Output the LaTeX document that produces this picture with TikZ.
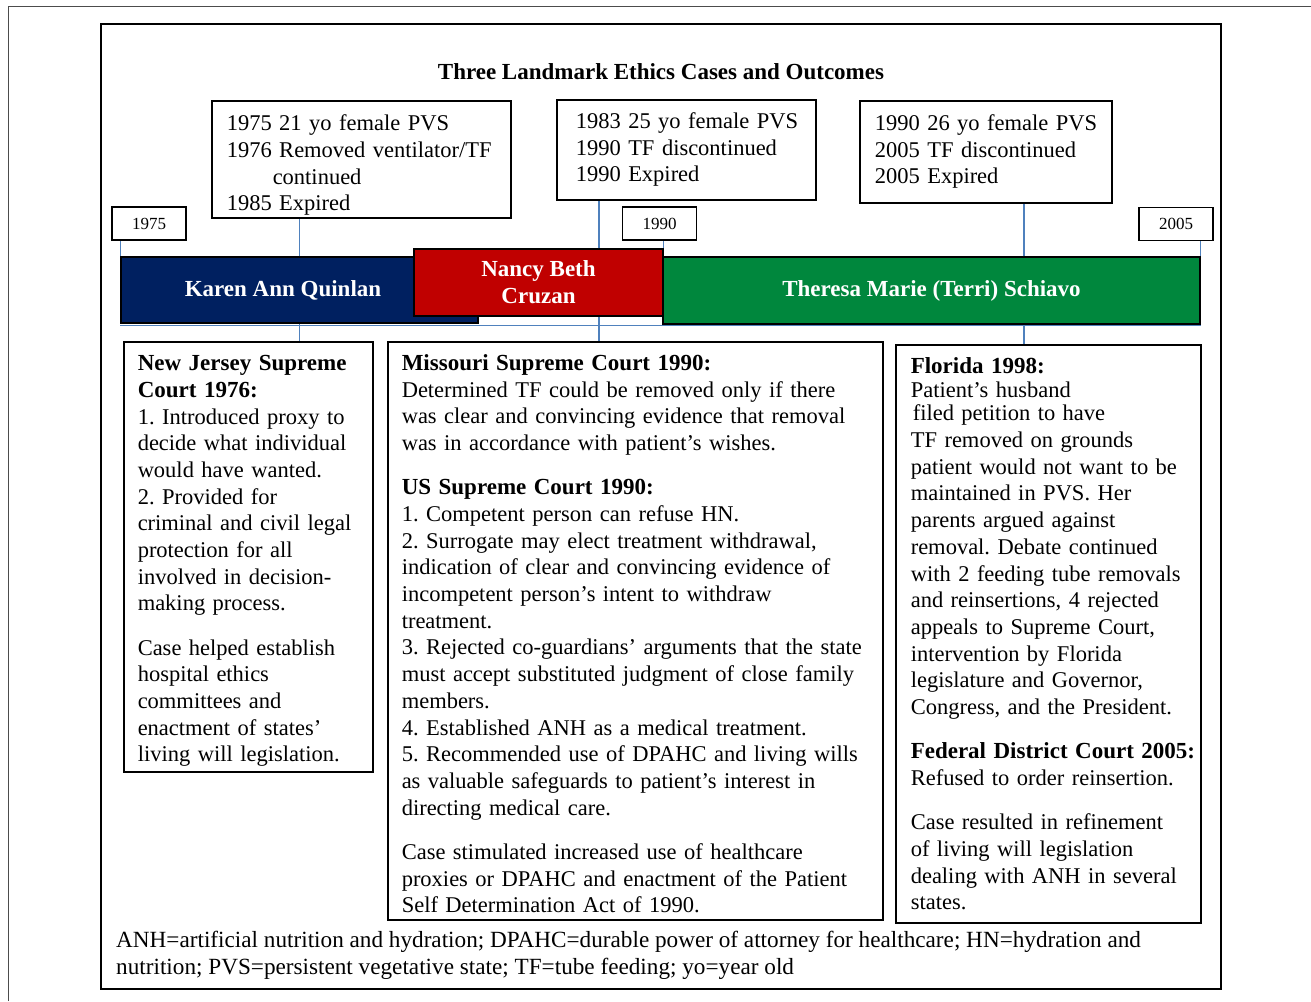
\documentclass[tikz,border=0pt]{standalone}
\usepackage{fontspec}
\setmainfont{Liberation Serif}
\usetikzlibrary{positioning}

\definecolor{kaqblue}{HTML}{002060}
\definecolor{ncbred}{HTML}{C00000}
\definecolor{tmsgreen}{HTML}{00873D}
\definecolor{tickblue}{HTML}{4F81BD}
\newcommand{\casefont}{\frenchspacing\fontsize{22.5}{26.7}\selectfont}
\newcommand{\boldfont}{\fontsize{23}{26.7}\selectfont\bfseries}
\newcommand{\head}[1]{{\boldfont #1}}

\tikzset{
	yearbox/.style={draw, line width=1.3pt, minimum width=74pt, minimum height=33pt, inner sep=0pt, font=\rmfamily\fontsize{17}{20}\selectfont},
	casebox/.style={draw, line width=1.5pt, anchor=north west, align=left, inner ysep=0pt, font=\casefont},
	bar/.style={draw, line width=1.5pt, inner sep=0pt, text=white, align=center, font=\boldfont},
	tick/.style={draw=tickblue, line width=1.3pt},
}

\begin{document}
\begin{tikzpicture}[x=1pt,y=-1pt]
	\useasboundingbox (0,0) rectangle (1311,1001);
	
	% marcos
	\draw[gray!60!black, line width=1pt] (8,1001) -- (8,6) -- (1311,6);
	\draw[line width=1.5pt] (101,24) rectangle (1221,989);
	
	\node[font=\boldfont] (title) at (661,72) {Three Landmark Ethics Cases and Outcomes};
	
	% datos arriba
	\node[casebox, inner xsep=15pt, text width=269pt, minimum height=117pt] (kaqinfo) at (211,100)
	{\rule{0pt}{28pt}1975 21 yo female PVS\\
		\mbox{1976 Removed ventilator/TF}\\
		\hspace*{46pt}continued\\
		1985 Expired};
	\node[casebox, inner xsep=19pt, text width=221pt, minimum height=100pt] (ncbinfo) at (556,99)
	{\mbox{1983 25 yo female PVS}\\
		1990 TF discontinued\\
		1990 Expired};
	\node[casebox, inner xsep=15pt, text width=222pt, minimum height=102pt] (tmsinfo) at (859,100)
	{\mbox{1990 26 yo female PVS}\\
		2005 TF discontinued\\
		2005 Expired};
	
	% años
	\node[yearbox] (y1975) at (149,223.5) {1975};
	\node[yearbox] (y1990) at (659.5,223.5) {1990};
	\node[yearbox] (y2005) at (1176,224) {2005};
	
	% barras
	\node[bar, fill=kaqblue, minimum width=357pt, minimum height=66pt] (kaq) at (299.5,290) {};
	\node[text=white, font=\boldfont] (kaqlabel) at (283,290) {Karen Ann Quinlan};
	\node[bar, fill=ncbred, minimum width=249pt, minimum height=67pt] (ncb) at (538.5,282.5) {Nancy Beth\\Cruzan};
	\node[bar, fill=tmsgreen, minimum width=537pt, minimum height=67pt] (tms) at (931.5,290.5) {Theresa Marie (Terri) Schiavo};
	
	% tribunales
	\node[casebox, inner xsep=14pt, text width=221pt, minimum height=430pt] (kaqcourt) at (123,341)
	{\rule{0pt}{24pt}\head{New Jersey Supreme}\\
		\head{Court 1976:}\\
		1. Introduced proxy to\\
		decide what individual\\
		would have wanted.\\
		2. Provided for\\
		criminal and civil legal\\
		protection for all\\
		involved in decision-\\
		making process.\\[17.5pt]
		Case helped establish\\
		hospital ethics\\
		committees and\\
		enactment of states’\\
		living will legislation.};
	\node[casebox, inner xsep=14pt, text width=467pt, minimum height=578pt] (ncbcourt) at (387,341)
	{\rule{0pt}{22pt}\head{Missouri Supreme Court 1990:}\\
		Determined TF could be removed only if there\\
		was clear and convincing evidence that removal\\
		was in accordance with patient’s wishes.\\[17.5pt]
		\head{US Supreme Court 1990:}\\
		1. Competent person can refuse HN.\\
		2. Surrogate may elect treatment withdrawal,\\
		indication of clear and convincing evidence of\\
		incompetent person’s intent to withdraw\\
		treatment.\\
		\mbox{3. Rejected co-guardians’ arguments that the state}\\
		must accept substituted judgment of close family\\
		members.\\
		4. Established ANH as a medical treatment.\\
		\mbox{5. Recommended use of DPAHC and living wills}\\
		as valuable safeguards to patient’s interest in\\
		directing medical care.\\[17.5pt]
		Case stimulated increased use of healthcare\\
		proxies or DPAHC and enactment of the Patient\\
		Self Determination Act of 1990.};
	\node[casebox, inner xsep=15pt, text width=275pt, minimum height=578pt] (tmscourt) at (895,344)
	{\head{Florida 1998:}\\[-3pt]
		Patient’s husband\\[-3pt]
		\hspace*{2pt}filed petition to have\\
		TF removed on grounds\\
		patient would not want to be\\
		maintained in PVS. Her\\
		parents argued against\\
		removal. Debate continued\\
		\mbox{with 2 feeding tube removals}\\
		and reinsertions, 4 rejected\\
		appeals to Supreme Court,\\
		intervention by Florida\\
		legislature and Governor,\\
		\mbox{Congress, and the President.}\\[17.5pt]
		\mbox{\head{Federal District Court 2005:}}\\
		Refused to order reinsertion.\\[17.5pt]
		Case resulted in refinement\\
		of living will legislation\\
		dealing with ANH in several\\
		states.};
	
	% linea de tiempo
	\coordinate (ncbx) at (599,282);
	\coordinate (tmsx) at (1024,290);
	\draw[tick] ([yshift=-2pt]kaq.south west) -- ([yshift=-2pt]kaq.south west -| tms.east);
	\draw[tick] (kaq.north west) -- (kaq.north west |- y1975.south);
	\draw[tick] (ncb.north east) -- (ncb.north east |- y1990.south);
	\draw[tick] (tms.north east) -- (tms.north east |- y2005.south);
	\draw[tick] (kaq.north) -- (kaq.north |- kaqinfo.south);
	\draw[tick] (kaq.south) -- (kaq.south |- kaqcourt.north);
	\draw[tick] (ncbx |- ncb.north) -- (ncbx |- ncbinfo.south);
	\draw[tick] (ncbx |- ncb.south) -- (ncbx |- ncbcourt.north);
	\draw[tick] (tmsx |- tms.north) -- (tmsx |- tmsinfo.south);
	\draw[tick] (tmsx |- tms.south) -- (tmsx |- tmscourt.north);
	
	% abreviaturas
	\node[anchor=west, align=left, inner sep=0pt, font=\frenchspacing\fontsize{23.2}{26.7}\selectfont] (notes) at (116,955)
	{ANH=artificial nutrition and hydration; DPAHC=durable power of attorney for healthcare; HN=hydration and\\
		nutrition; PVS=persistent vegetative state; TF=tube feeding; yo=year old};
\end{tikzpicture}
\end{document}
